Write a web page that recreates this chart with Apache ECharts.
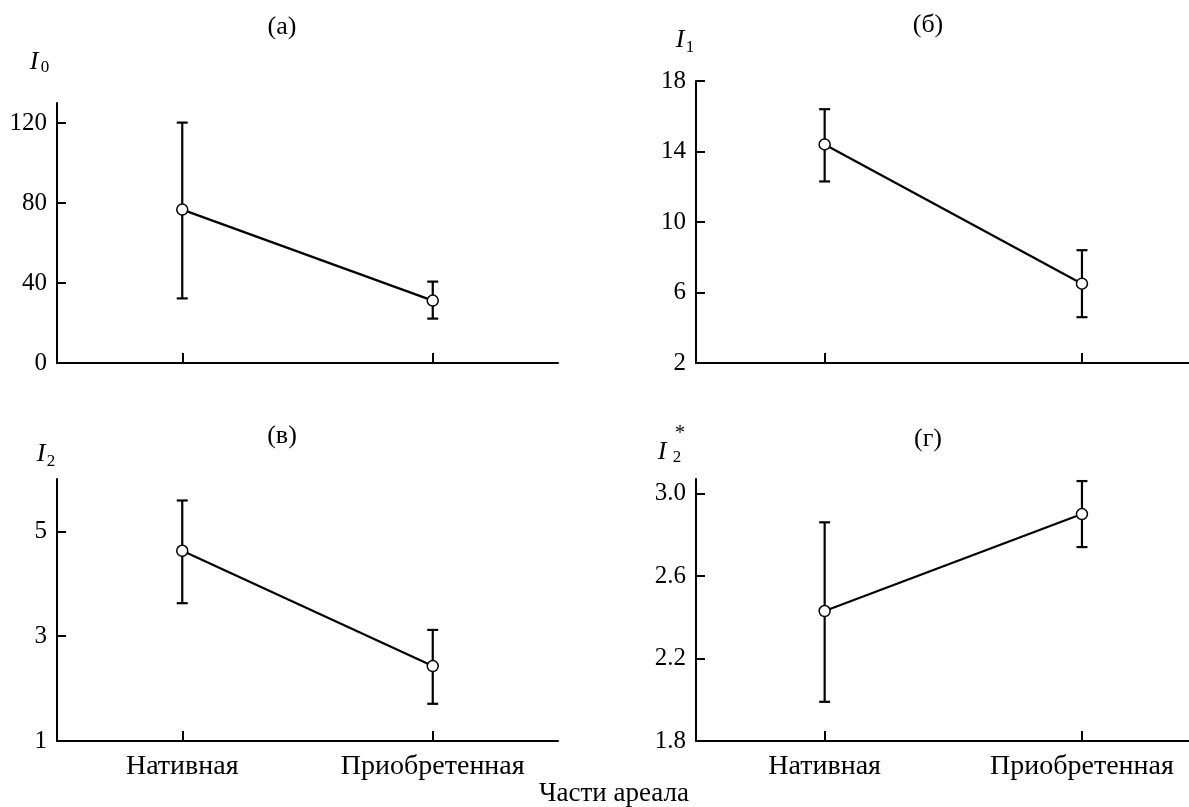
<!DOCTYPE html>
<html><head><meta charset="utf-8">
<script src="https://cdn.jsdelivr.net/npm/echarts@6/dist/echarts.min.js"></script>
<style>html,body{margin:0;padding:0;background:#fff}#c{width:1189px;height:807px}</style>
</head><body><div id="c"></div>
<script>
const categories = ['Нативная', 'Приобретенная'];
const panelTitles = ['(а)', '(б)', '(в)', '(г)'];
const xTitle = 'Части ареала';

const meanA = [76.7, 31.2];
const lowA = [32.3, 22.2];
const highA = [120.2, 40.7];
const ticksA = [0, 40, 80, 120];

const meanB = [14.4, 6.5];
const lowB = [12.3, 4.6];
const highB = [16.4, 8.4];
const ticksB = [2, 6, 10, 14, 18];

const meanC = [4.63, 2.43];
const lowC = [3.63, 1.71];
const highC = [5.59, 3.12];
const ticksC = [1, 3, 5];

const meanD = [2.43, 2.90];
const lowD = [1.99, 2.74];
const highD = [2.86, 3.06];
const ticksD = [1.8, 2.2, 2.6, 3.0];

const FONT = '"Liberation Serif", "DejaVu Serif", serif';
const panels = [
  {mean: meanA, low: lowA, high: highA, ticks: ticksA, min: 0, max: 130, dec: 0, xMax: 1.5,
   grid: {left: 57, top: 103, width: 501, height: 260}, showX: false},
  {mean: meanB, low: lowB, high: highB, ticks: ticksB, min: 2, max: 18, dec: 0, xMax: 1.416,
   grid: {left: 696, top: 81, width: 493, height: 282}, showX: false},
  {mean: meanC, low: lowC, high: highC, ticks: ticksC, min: 1, max: 6, dec: 0, xMax: 1.5,
   grid: {left: 57, top: 479, width: 501, height: 262}, showX: true},
  {mean: meanD, low: lowD, high: highD, ticks: ticksD, min: 1.8, max: 3.07, dec: 1, xMax: 1.416,
   grid: {left: 696, top: 479, width: 493, height: 262}, showX: true}
];

const black = '#000';
const grid = [], xAxis = [], yAxis = [], series = [];
panels.forEach((p, i) => {
  grid.push(Object.assign({containLabel: false}, p.grid));
  xAxis.push({
    type: 'value', gridIndex: i, min: -0.5, max: p.xMax,
    splitLine: {show: false},
    axisLine: {onZero: false, lineStyle: {color: black, width: 2}},
    axisTick: {inside: true, length: 10, customValues: [0, 1], lineStyle: {color: black, width: 2}},
    axisLabel: {show: p.showX, customValues: [0, 1], margin: 12,
      formatter: v => categories[Math.round(v)] || '',
      color: black, fontFamily: FONT, fontSize: 28}
  });
  yAxis.push({
    type: 'value', gridIndex: i, min: p.min, max: p.max,
    splitLine: {show: false},
    axisLine: {onZero: false, lineStyle: {color: black, width: 2}},
    axisTick: {inside: true, length: 9, customValues: p.ticks, lineStyle: {color: black, width: 2}},
    axisLabel: {customValues: p.ticks, margin: 10,
      formatter: v => Number(v).toFixed(p.dec),
      color: black, fontFamily: FONT, fontSize: 25}
  });
  const errData = p.mean.map((m, k) => [k, p.low[k], p.high[k]]);
  series.push({
    type: 'custom', xAxisIndex: i, yAxisIndex: i, z: 2,
    data: errData,
    encode: {x: 0, y: [1, 2]},
    renderItem: function (params, api) {
      const x = api.value(0);
      const pTop = api.coord([x, api.value(2)]);
      const pBot = api.coord([x, api.value(1)]);
      const w = 5.5;
      const st = {stroke: black, lineWidth: 2.2};
      return {type: 'group', children: [
        {type: 'line', shape: {x1: pTop[0], y1: pTop[1], x2: pBot[0], y2: pBot[1]}, style: st},
        {type: 'line', shape: {x1: pTop[0] - w, y1: pTop[1], x2: pTop[0] + w, y2: pTop[1]}, style: st},
        {type: 'line', shape: {x1: pBot[0] - w, y1: pBot[1], x2: pBot[0] + w, y2: pBot[1]}, style: st}
      ]};
    }
  });
  series.push({
    type: 'line', xAxisIndex: i, yAxisIndex: i, z: 3,
    data: p.mean.map((m, k) => [k, m]),
    symbol: 'circle', symbolSize: 11, showSymbol: true,
    lineStyle: {color: black, width: 2.2},
    itemStyle: {color: '#fff', borderColor: black, borderWidth: 1.5},
    animation: false
  });
});

function txt(x, y, text, size, italic, align) {
  return {type: 'text', x: x, y: y, silent: true,
    style: {text: text, fill: black, align: align || 'center', verticalAlign: 'middle',
      font: (italic ? 'italic ' : '') + size + 'px ' + FONT}};
}

const graphic = [
  txt(282, 27, panelTitles[0], 26),
  txt(928, 25, panelTitles[1], 26),
  txt(282, 436, panelTitles[2], 26),
  txt(928, 439, panelTitles[3], 26),
  txt(34, 62, 'I', 26, true), txt(45, 68, '0', 17),
  txt(680, 40, 'I', 26, true), txt(690, 48, '1', 17),
  txt(41, 454, 'I', 26, true), txt(51, 462, '2', 17),
  txt(662, 452, 'I', 26, true), txt(677, 458, '2', 17), txt(680, 434, '*', 20),
  txt(614, 794, xTitle, 27)
];

const chart = echarts.init(document.getElementById('c'));
chart.setOption({animation: false, backgroundColor: '#fff', grid, xAxis, yAxis, series, graphic});
</script>
</body></html>
